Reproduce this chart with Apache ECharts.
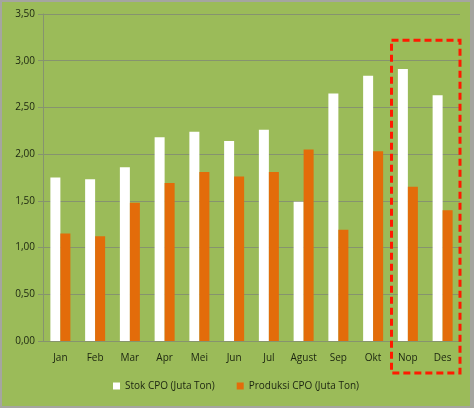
<!DOCTYPE html>
<html>
<head>
<meta charset="utf-8">
<script src="https://cdn.jsdelivr.net/npm/echarts@6/dist/echarts.min.js"></script>
<style>
  html, body { margin: 0; padding: 0; background: #a5a5a0; }
  #chart { position: absolute; left: 2px; top: 2px; width: 468px; height: 404px; }
</style>
</head>
<body>
<div id="chart"></div>
<script>
var months = ['Jan', 'Feb', 'Mar', 'Apr', 'Mei', 'Jun', 'Jul', 'Agust', 'Sep', 'Okt', 'Nop', 'Des'];
var stok = [1.75, 1.73, 1.86, 2.18, 2.24, 2.14, 2.26, 1.49, 2.65, 2.84, 2.91, 2.63];
var produksi = [1.15, 1.12, 1.48, 1.69, 1.81, 1.76, 1.81, 2.05, 1.19, 2.03, 1.65, 1.40];
var highlight = ['Nop', 'Des'];

var myChart = echarts.init(document.getElementById('chart'));
var lineCol = '#86936f';
var txtCol = '#1b2410';
var option = {
    backgroundColor: '#9bbb59',
    animation: false,
    textStyle: { fontFamily: 'Open Sans', color: txtCol },
    grid: { left: 41, right: 10, top: 12, bottom: 65 },
    legend: {
        bottom: 10,
        itemWidth: 7,
        itemHeight: 7,
        itemGap: 22,
        icon: 'rect',
        textStyle: { fontSize: 10, color: txtCol },
        data: ['Stok CPO (Juta Ton)', 'Produksi CPO (Juta Ton)']
    },
    xAxis: {
        type: 'category',
        data: months,
        axisLine: { lineStyle: { color: lineCol } },
        axisTick: { lineStyle: { color: lineCol } },
        axisLabel: { fontSize: 10, color: txtCol, margin: 12 }
    },
    yAxis: {
        type: 'value',
        min: 0,
        max: 3.5,
        interval: 0.5,
        axisLine: { show: true, lineStyle: { color: lineCol } },
        axisTick: { show: true, lineStyle: { color: lineCol } },
        splitLine: { lineStyle: { color: lineCol } },
        axisLabel: {
            fontSize: 10, color: txtCol, margin: 8,
            formatter: function (v) { return v.toFixed(2).replace('.', ','); }
        }
    },
    series: [
        {
            name: 'Stok CPO (Juta Ton)',
            type: 'bar',
            data: stok,
            barWidth: 10,
            barGap: '0%',
            itemStyle: { color: '#ffffff' }
        },
        {
            name: 'Produksi CPO (Juta Ton)',
            type: 'bar',
            data: produksi,
            barWidth: 10,
            itemStyle: { color: '#e36c0a' }
        }
    ]
};
myChart.setOption(option);

// kotak putus-putus di sekitar dua bulan terakhir
function drawBox() {
    var xa = myChart.convertToPixel({ xAxisIndex: 0 }, highlight[0]);
    var xb = myChart.convertToPixel({ xAxisIndex: 0 }, highlight[1]);
    var bw = xb - xa;
    var yTop = myChart.convertToPixel({ yAxisIndex: 0 }, 3.22);
    var yBase = myChart.convertToPixel({ yAxisIndex: 0 }, 0);
    myChart.setOption({
        graphic: [{
            type: 'rect',
            shape: { x: xa - bw / 2 + 1, y: yTop, width: bw * 2 - 1, height: yBase - yTop + 32 },
            style: { fill: 'none', stroke: '#ff1a00', lineWidth: 3, lineDash: [7, 4] },
            z: 100
        }]
    });
}
drawBox();
</script>
</body>
</html>
